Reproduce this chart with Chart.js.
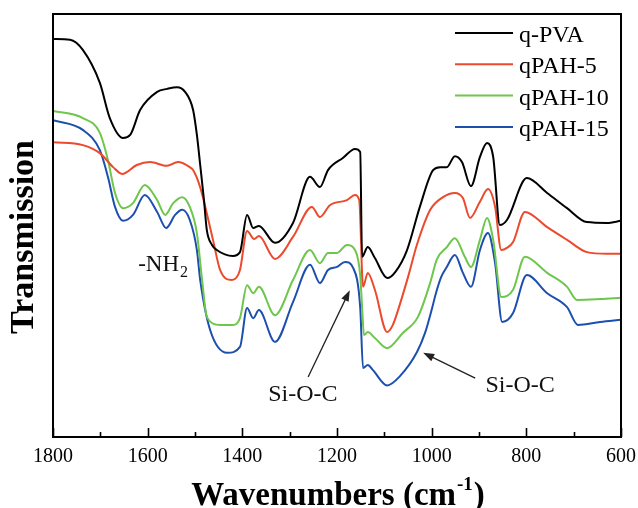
<!DOCTYPE html>
<html><head><meta charset="utf-8">
<script src="https://cdn.jsdelivr.net/npm/chart.js@4/dist/chart.umd.min.js"></script>
<style>html,body{margin:0;padding:0;background:#fff}#wrap{width:638px;height:508px}</style>
</head><body><div id="wrap"><canvas id="c" width="638" height="508"></canvas></div>
<script>
const seriesNames = ['q-PVA', 'qPAH-5', 'qPAH-10', 'qPAH-15'];
const xTickValues = [600, 700, 800, 900, 1000, 1100, 1200, 1300, 1400, 1500, 1600, 1700, 1800];

const waveQPVA = [1800,1764,1737,1701,1680,1652,1637,1616,1580,1559,1538,1521,1504,1496,1489,1481,1475,1464,1454,1420,1405,1390,1377,1365,1331,1293,1257,1236,1219,1187,1162,1151,1147,1135,1120,1094,1077,1052,1025,997,982,968,951,936,917,898,883,870,856,841,799,756,714,672,630,600];
const transQPVA = [94.1,93.9,91.5,83.7,75.4,70.7,71.4,77.3,81.6,82.3,82.7,81.6,77.3,71.4,64.3,56.0,48.9,45.4,44.2,42.8,43.7,52.5,49.4,49.9,45.9,50.6,61.5,59.1,63.1,66.0,68.1,67.4,42.6,44.9,42.3,37.6,39.0,44.2,54.4,63.1,63.8,63.8,66.4,65.0,59.3,66.2,69.5,66.2,50.1,51.3,61.2,57.7,54.1,50.8,50.6,51.1];

const wavePAH5 = [1800,1737,1701,1673,1654,1623,1595,1559,1536,1511,1504,1489,1462,1447,1422,1405,1390,1375,1365,1331,1293,1253,1236,1215,1179,1162,1153,1145,1135,1120,1094,1082,1071,1050,1031,1003,976,951,934,919,898,881,866,853,841,828,803,756,714,672,630,600];
const transPAH5 = [69.7,69.0,67.1,63.8,62.2,64.3,65.0,64.1,65.0,63.8,63.1,59.0,46.6,39.5,37.1,39.5,48.7,46.8,47.5,42.1,47.3,54.4,52.0,54.8,56.0,57.2,56.0,35.5,38.8,34.8,24.8,26.5,30.0,37.8,45.5,53.7,56.7,57.7,56.5,51.8,55.6,58.6,54.4,44.2,44.7,46.1,53.2,49.6,46.6,43.7,43.3,43.3];

const wavePAH10 = [1800,1737,1701,1684,1669,1652,1631,1606,1580,1563,1546,1527,1511,1496,1485,1475,1447,1420,1405,1390,1377,1365,1331,1293,1257,1236,1219,1200,1179,1162,1151,1147,1143,1135,1120,1094,1061,1029,1003,989,968,951,930,917,898,883,870,853,828,803,756,714,693,644,600];
const transPAH10 = [77.1,75.4,71.9,65.5,57.7,54.1,55.3,59.6,56.0,52.5,55.3,56.7,54.4,48.2,37.1,28.4,26.5,26.5,28.1,35.9,34.0,35.5,28.8,37.1,44.2,41.1,43.5,43.5,45.4,44.2,38.3,30.7,24.1,24.8,23.4,21.0,24.6,28.4,36.5,42.0,44.9,47.0,42.6,40.2,46.6,51.8,46.6,33.1,34.8,42.6,38.8,35.5,32.4,32.6,32.9];

const wavePAH15 = [1800,1737,1701,1684,1669,1652,1631,1606,1580,1561,1542,1527,1511,1496,1489,1468,1432,1405,1390,1377,1365,1331,1293,1257,1236,1219,1200,1183,1166,1151,1145,1135,1124,1094,1067,1031,1014,999,991,980,968,951,934,917,898,881,866,851,828,799,756,714,691,644,600];
const transPAH15 = [74.9,72.6,67.8,61.5,54.4,51.1,52.5,57.2,53.2,49.4,52.5,53.7,51.3,44.2,37.1,25.3,19.9,21.3,30.5,28.1,30.0,22.5,31.9,40.7,36.4,39.5,40.2,41.4,40.0,30.7,16.3,17.0,15.8,12.2,14.4,20.1,24.6,30.5,34.0,37.8,40.2,43.0,38.8,35.5,44.2,48.2,41.1,27.2,29.3,38.3,34.0,30.7,26.5,27.2,27.7];

const seriesWaves = [waveQPVA, wavePAH5, wavePAH10, wavePAH15];
const seriesTrans = [transQPVA, transPAH5, transPAH10, transPAH15];
const seriesColors = ['#000000', '#ec4a2c', '#6ec64c', '#1d4fae'];

const SERIF = '"Liberation Serif", "DejaVu Serif", serif';

const datasets = seriesNames.map((name, i) => ({
  label: name,
  data: seriesWaves[i].map((w, k) => ({ x: w, y: seriesTrans[i][k] })),
  borderColor: seriesColors[i],
  backgroundColor: seriesColors[i],
  borderWidth: 2,
  pointRadius: 0,
  fill: false,
  tension: 0.4,
  cubicInterpolationMode: 'monotone'
}));

const decorPlugin = {
  id: 'decor',
  afterDraw(chart) {
    const ctx = chart.ctx;
    const a = chart.chartArea;
    const xs = chart.scales.x, ys = chart.scales.y;
    ctx.save();
    ctx.strokeStyle = '#000';
    ctx.lineWidth = 2;
    ctx.strokeRect(a.left, a.top, a.right - a.left, a.bottom - a.top);
    ctx.lineWidth = 1.6;
    xTickValues.forEach(v => {
      const px = Math.round(xs.getPixelForValue(v)) + 0.5;
      const len = (v % 200 === 0) ? 9 : 5;
      ctx.beginPath();
      ctx.moveTo(px, a.bottom);
      ctx.lineTo(px, a.bottom - len);
      ctx.stroke();
    });
    ctx.textAlign = 'left';
    ctx.textBaseline = 'alphabetic';
    ctx.font = '24px ' + SERIF;
    seriesNames.forEach((name, i) => {
      const y = 33 + i * 31.3;
      ctx.strokeStyle = seriesColors[i];
      ctx.lineWidth = 2;
      ctx.beginPath();
      ctx.moveTo(455, y);
      ctx.lineTo(513, y);
      ctx.stroke();
      ctx.fillStyle = '#000';
      ctx.fillText(name, 519, y + 9);
    });
    ctx.fillStyle = '#111';
    ctx.font = '23px ' + SERIF;
    const nx = xs.getPixelForValue(1620), ny = ys.getPixelForValue(39.2);
    ctx.fillText('-NH', nx, ny);
    const nw = ctx.measureText('-NH').width;
    ctx.font = '16px ' + SERIF;
    ctx.fillText('2', nx + nw + 1, ny + 6);

    ctx.font = '24px ' + SERIF;
    ctx.textAlign = 'center';
    ctx.fillText('Si-O-C', xs.getPixelForValue(1272), ys.getPixelForValue(8.5));
    ctx.fillText('Si-O-C', xs.getPixelForValue(813), ys.getPixelForValue(10.6));

    const arrow = (w1, t1, w2, t2) => {
      const x1 = xs.getPixelForValue(w1), y1 = ys.getPixelForValue(t1);
      const x2 = xs.getPixelForValue(w2), y2 = ys.getPixelForValue(t2);
      const ang = Math.atan2(y2 - y1, x2 - x1);
      const L = 11, W = 4;
      ctx.strokeStyle = '#222';
      ctx.lineWidth = 1.3;
      ctx.beginPath();
      ctx.moveTo(x1, y1);
      ctx.lineTo(x2 - Math.cos(ang) * L * 0.8, y2 - Math.sin(ang) * L * 0.8);
      ctx.stroke();
      ctx.fillStyle = '#222';
      ctx.beginPath();
      ctx.moveTo(x2, y2);
      ctx.lineTo(x2 - Math.cos(ang) * L - Math.sin(ang) * W, y2 - Math.sin(ang) * L + Math.cos(ang) * W);
      ctx.lineTo(x2 - Math.cos(ang) * L + Math.sin(ang) * W, y2 - Math.sin(ang) * L - Math.cos(ang) * W);
      ctx.closePath();
      ctx.fill();
    };
    arrow(1261, 14.2, 1173, 34.7);
    arrow(908, 13.9, 1018, 19.9);

    ctx.fillStyle = '#000';
    ctx.textAlign = 'left';
    const mainFont = 'bold 33px ' + SERIF, supFont = 'bold 19px ' + SERIF;
    ctx.font = mainFont;
    const p1 = 'Wavenumbers (cm', p3 = ')';
    const w1 = ctx.measureText(p1).width, w3 = ctx.measureText(p3).width;
    ctx.font = supFont;
    const w2 = ctx.measureText('-1').width;
    const cx = (a.left + a.right) / 2;
    let sx = cx - (w1 + w2 + w3) / 2;
    const by = 505;
    ctx.font = mainFont;
    ctx.fillText(p1, sx, by);
    ctx.font = supFont;
    ctx.fillText('-1', sx + w1 + 1, by - 15);
    ctx.font = mainFont;
    ctx.fillText(p3, sx + w1 + w2 + 2, by);

    ctx.save();
    ctx.translate(24, 237);
    ctx.rotate(-Math.PI / 2);
    ctx.textAlign = 'center';
    ctx.textBaseline = 'middle';
    ctx.font = 'bold 34px ' + SERIF;
    ctx.fillText('Transmission', 0, 0);
    ctx.restore();

    ctx.restore();
  }
};

new Chart(document.getElementById('c'), {
  type: 'line',
  data: { datasets },
  options: {
    responsive: false,
    animation: false,
    layout: { padding: { left: 53, right: 17, top: 14, bottom: 0 } },
    plugins: { legend: { display: false }, tooltip: { enabled: false } },
    scales: {
      x: {
        type: 'linear', reverse: true, min: 600, max: 1800,
        afterBuildTicks: s => { s.ticks = xTickValues.map(v => ({ value: v })); },
        ticks: {
          autoSkip: false, maxRotation: 0, padding: 8, color: '#000',
          font: { family: SERIF, size: 20 },
          callback: v => (v % 200 === 0 ? String(v) : '')
        },
        grid: { display: false, drawTicks: false },
        border: { display: false },
        afterFit: s => { s.height = 71; }
      },
      y: { display: false, min: 0, max: 100 }
    }
  },
  plugins: [decorPlugin]
});
</script>
</body></html>
